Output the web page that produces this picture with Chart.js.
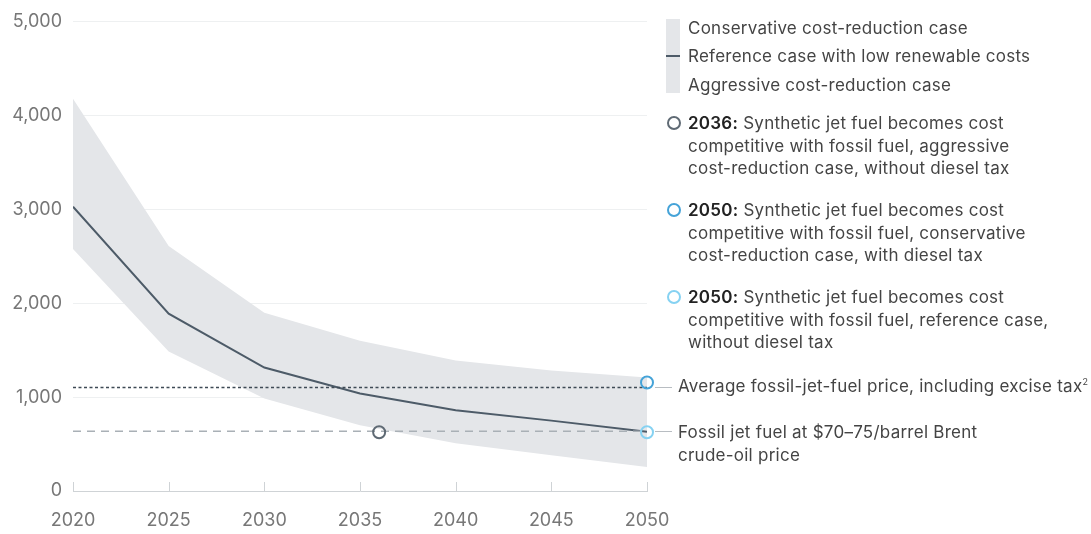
<!DOCTYPE html>
<html>
<head>
<meta charset="utf-8">
<script src="https://cdn.jsdelivr.net/npm/chart.js@4.4.1/dist/chart.umd.min.js"></script>
<style>
  html, body { margin: 0; padding: 0; background: #fff; }
  body { width: 1091px; height: 534px; position: relative; overflow: hidden; font-family: Inter, "Noto Sans", sans-serif; color: #444; }
  #wrap { position: absolute; left: 0; top: 0; width: 1091px; height: 534px; }
  .t { position: absolute; font-size: 17px; line-height: 22.5px; white-space: nowrap; letter-spacing: 0.25px; }
  .t b { color: #222; font-weight: 600; }
  .ring { position: absolute; width: 10px; height: 10px; border-radius: 50%; border: 2px solid; box-sizing: content-box; }
  #band { position: absolute; left: 666px; top: 19px; width: 14px; height: 74px; background: #e4e6e9; }
  #bandLine { position: absolute; left: 666px; top: 55px; width: 14px; height: 2px; background: #4d5b68; }
</style>
</head>
<body>
<div id="wrap"><canvas id="chart" width="1091" height="534"></canvas></div>

<div id="band"></div><div id="bandLine"></div>
<div class="t" style="left:688px; top:17px">Conservative cost-reduction case</div>
<div class="t" style="left:688px; top:45px">Reference case with low renewable costs</div>
<div class="t" style="left:688px; top:74px">Aggressive cost-reduction case</div>

<div class="ring" style="left:667px; top:116px; border-color:#5f6a74"></div>
<div class="t" style="left:688px; top:112px"><b>2036:</b> Synthetic jet fuel becomes cost<br>competitive with fossil fuel, aggressive<br>cost-reduction case, without diesel tax</div>

<div class="ring" style="left:667px; top:203px; border-color:#45a3d8"></div>
<div class="t" style="left:688px; top:199px"><b>2050:</b> Synthetic jet fuel becomes cost<br>competitive with fossil fuel, conservative<br>cost-reduction case, with diesel tax</div>

<div class="ring" style="left:667px; top:290px; border-color:#86d2f2"></div>
<div class="t" style="left:688px; top:286px"><b>2050:</b> Synthetic jet fuel becomes cost<br>competitive with fossil fuel, reference case,<br>without diesel tax</div>

<div class="t" style="left:678px; top:375px">Average fossil-jet-fuel price, including excise tax<sup style="font-size:9px; line-height:0">2</sup></div>
<div class="t" style="left:678px; top:421px">Fossil jet fuel at $70–75/barrel Brent<br>crude-oil price</div>

<script>
const years = [2020, 2025, 2030, 2035, 2040, 2045, 2050];
const referenceCase = [3030, 1890, 1316, 1040, 860, 750, 630];
const conservativeCase = [4180, 2610, 1900, 1600, 1390, 1285, 1210];
const aggressiveCase = [2580, 1486, 987, 700, 510, 382, 255];
const avgFossilPrice = 1104;
const brentFossilPrice = 637;
const crossings = [
  { year: 2036, value: 626, color: '#5f6a74' },
  { year: 2050, value: 1157, color: '#45a3d8' },
  { year: 2050, value: 626, color: '#86d2f2' }
];
const yTicks = [0, 1000, 2000, 3000, 4000, 5000];

const pts = arr => arr.map((v, i) => ({ x: years[i], y: v }));
const flat = v => [{ x: 2020, y: v }, { x: 2050, y: v }];

// upward ticks on the x axis, leader lines to the notes
const extras = {
  id: 'extras',
  afterDatasetsDraw(chart) {
    const { ctx, scales: { x, y } } = chart;
    ctx.save();
    ctx.strokeStyle = '#cfd3d6';
    ctx.lineWidth = 1;
    const y0 = y.getPixelForValue(0);
    years.forEach(yr => {
      const px = Math.round(x.getPixelForValue(yr)) + 0.5;
      ctx.beginPath();
      ctx.moveTo(px, y0);
      ctx.lineTo(px, y0 - 9);
      ctx.stroke();
    });
    ctx.strokeStyle = '#b8bdc2';
    [avgFossilPrice, brentFossilPrice].forEach(v => {
      const py = Math.round(y.getPixelForValue(v)) + 0.5;
      ctx.beginPath();
      ctx.moveTo(x.getPixelForValue(2050) + 8, py);
      ctx.lineTo(x.getPixelForValue(2050) + 25, py);
      ctx.stroke();
    });
    ctx.restore();
  }
};

const tickFont = { family: 'Inter', size: 18 };

new Chart(document.getElementById('chart'), {
  type: 'line',
  data: {
    datasets: [
      { data: pts(aggressiveCase), borderWidth: 0, pointRadius: 0, fill: false, order: 5 },
      { data: pts(conservativeCase), borderWidth: 0, pointRadius: 0, fill: 0, backgroundColor: '#e4e6e9', order: 5 },
      { data: pts(referenceCase), borderColor: '#4d5b68', borderWidth: 2, pointRadius: 0, fill: false, order: 3 },
      { data: flat(avgFossilPrice), borderColor: '#3e4a55', borderWidth: 1.5, borderDash: [3, 2.5], pointRadius: 0, fill: false, order: 2 },
      { data: flat(brentFossilPrice), borderColor: '#a9b0b6', borderWidth: 1.5, borderDash: [8, 6], pointRadius: 0, fill: false, order: 2 },
      {
        data: crossings.map(c => ({ x: c.year, y: c.value })),
        showLine: false, pointRadius: 6, pointBorderWidth: 2, clip: false,
        pointBackgroundColor: 'rgba(255,255,255,0)',
        pointBorderColor: crossings.map(c => c.color), order: 1
      }
    ]
  },
  options: {
    responsive: false,
    animation: false,
    layout: { padding: { left: 0, right: 444, top: 20, bottom: 0 } },
    plugins: { legend: { display: false }, tooltip: { enabled: false } },
    scales: {
      x: {
        type: 'linear', min: 2020, max: 2050,
        afterBuildTicks: s => { s.ticks = years.map(v => ({ value: v })); },
        afterFit: s => { s.height = 43; },
        grid: { display: false, drawTicks: false },
        border: { display: true, color: '#cfd3d6', width: 1 },
        ticks: { color: '#777', font: tickFont, padding: 19, callback: v => String(v) }
      },
      y: {
        min: 0, max: 5000,
        afterBuildTicks: s => { s.ticks = yTicks.map(v => ({ value: v })); },
        afterFit: s => { s.width = 73; },
        grid: { color: ctx => ctx.tick.value === 0 ? 'rgba(0,0,0,0)' : '#eef0f1', drawTicks: false, lineWidth: 1 },
        border: { display: false },
        ticks: { color: '#777', font: tickFont, padding: 11, callback: v => v.toLocaleString('en-US') }
      }
    }
  },
  plugins: [extras]
});
</script>
</body>
</html>
